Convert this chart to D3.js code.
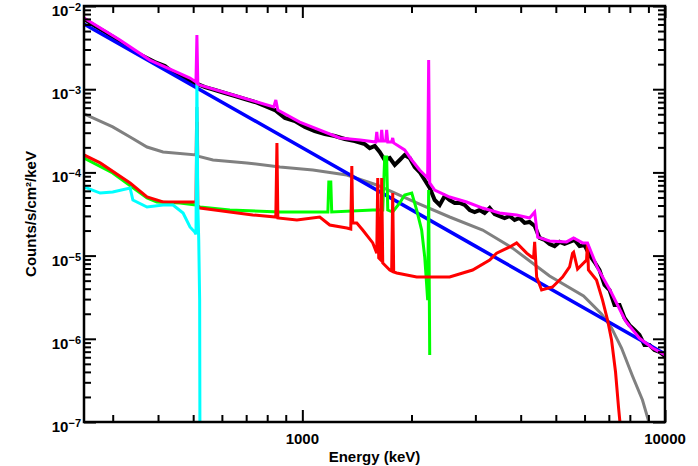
<!DOCTYPE html>
<html>
<head>
<meta charset="utf-8">
<script src="https://cdn.jsdelivr.net/npm/d3@7"></script>
<style>
  html, body { margin: 0; padding: 0; background: #fff; }
  svg text { font-family: "Liberation Sans", Arial, sans-serif; font-weight: bold; fill: #000; }
</style>
</head>
<body>
<svg id="chart" width="698" height="466"></svg>
<script>
// Energy axis (keV) and flux axis (counts/s/cm^2/keV)
const energyDomain = [250, 10000];
const fluxDomain = [1e-7, 1e-2];
const xMajorTicks = [1000, 10000];
const xTickLabels = ["1000", "10000"];
const xMinorTicks = [300, 400, 500, 600, 700, 800, 900, 2000, 3000, 4000, 5000, 6000, 7000, 8000, 9000];
const yExponents = [-7, -6, -5, -4, -3, -2];
const xTitle = "Energy (keV)";
const yTitle = "Counts/s/cm\u00b2/keV";

// Measured spectrum [keV, counts/s/cm^2/keV]
const spectrum = [
  [250,6.98e-3],[268,5.75e-3],[286,4.87e-3],[304,4.12e-3],[324,3.40e-3],[346,2.80e-3],[368,2.44e-3],
  [392,2.12e-3],[418,1.90e-3],[445,1.52e-3],[474,1.36e-3],[505,1.19e-3],[539,1.06e-3],[574,9.78e-4],
  [611,9.00e-4],[652,8.29e-4],[694,7.62e-4],[740,7.02e-4],[788,6.28e-4],[840,5.62e-4],[895,4.51e-4],
  [954,4.15e-4],[1016,3.51e-4],[1082,3.14e-4],[1153,2.89e-4],[1229,2.74e-4],[1309,2.52e-4],[1395,2.38e-4],
  [1486,2.19e-4],[1534,1.96e-4],[1584,2.08e-4],[1634,1.76e-4],[1687,1.41e-4],[1742,1.49e-4],[1798,1.23e-4],
  [1856,1.41e-4],[1915,1.62e-4],[1977,1.49e-4],[2041,1.16e-4],[2106,1.01e-4],[2175,8.11e-5],[2245,6.49e-5],
  [2317,4.66e-5],[2392,4.06e-5],[2469,5.20e-5],[2548,4.66e-5],[2630,4.29e-5],[2715,4.29e-5],[2803,4.06e-5],
  [2893,3.53e-5],[2986,3.34e-5],[3082,3.53e-5],[3181,3.25e-5],[3285,3.73e-5],[3390,3.16e-5],[3499,2.99e-5],
  [3612,2.83e-5],[3730,2.99e-5],[3849,2.68e-5],[3973,2.83e-5],[4101,2.47e-5],[4233,2.54e-5],[4371,2.27e-5],
  [4511,1.63e-5],[4656,1.54e-5],[4806,1.38e-5],[4961,1.30e-5],[5120,1.46e-5],[5285,1.38e-5],[5456,1.46e-5],
  [5631,1.54e-5],[5813,1.30e-5],[6000,1.34e-5],[6192,1.02e-5],[6392,8.38e-6],[6598,6.71e-6],[6812,4.43e-6],
  [7031,3.86e-6],[7258,2.55e-6],[7492,2.55e-6],[7733,1.78e-6],[7982,1.46e-6],[8240,1.28e-6],[8502,1.11e-6],
  [8778,8.42e-7],[9061,8.42e-7],[9353,7.33e-7],[9655,6.94e-7],[10000,6.21e-7]
];

// Summed model
const modelTotal = [
  [250,7.17e-3],[314,3.90e-3],[380,2.24e-3],[490,1.36e-3],[509,1.22e-3],[512,4.48e-3],[515,1.155e-3],
  [522,1.12e-3],[673,8.06e-4],[834,6.11e-4],[845,7.42e-4],[856,5.62e-4],[984,4.03e-4],[1268,2.59e-4],
  [1444,2.45e-4],[1594,2.32e-4],[1604,3.06e-4],[1614,2.38e-4],[1645,2.38e-4],[1655,3.24e-4],[1666,2.38e-4],
  [1698,2.38e-4],[1708,3.24e-4],[1720,2.32e-4],[1763,2.32e-4],[1775,2.59e-4],[1786,2.26e-4],[1915,1.86e-4],
  [2003,1.41e-4],[2106,1.07e-4],[2216,8.57e-5],[2230,2.24e-3],[2245,7.46e-5],[2317,6.14e-5],[2548,5.06e-5],
  [2838,4.41e-5],[3142,3.73e-5],[3499,3.25e-5],[3898,3.08e-5],[4233,2.83e-5],[4371,3.34e-5],[4456,1.67e-5],
  [4806,1.50e-5],[5352,1.46e-5],[5597,1.63e-5],[5925,1.42e-5],[6114,1.42e-5],[6516,7.10e-6],[7122,3.55e-6],
  [7782,1.64e-6],[8502,1.02e-6],[9234,7.75e-7],[10000,6.38e-7]
];

// Power-law continuum
const modelPowerLaw = [[250,6.08e-3],[1000,1.98e-4],[3000,1.30e-5],[10000,6.56e-7]];

// Broad background component
const modelBroad = [
  [250,5.04e-4],[300,3.52e-4],[335,2.66e-4],[373,2.02e-4],[413,1.76e-4],[509,1.62e-4],[512,6.11e-4],
  [515,1.57e-4],[567,1.41e-4],[703,1.30e-4],[867,1.16e-4],[1069,1.07e-4],[1326,9.31e-5],[1604,7.06e-5],
  [2067,4.29e-5],[2548,2.91e-5],[3142,2.03e-5],[3800,1.23e-5],[4806,5.69e-6],[5962,3.27e-6],[6683,1.99e-6],
  [7122,1.35e-6],[7588,7.75e-7],[8135,3.57e-7],[8667,1.84e-7],[9061,9.46e-8],[9353,6.08e-8]
];

// Line-rich activation component
const modelRed = [
  [250,1.62e-4],[277,1.30e-4],[335,7.46e-5],[373,5.06e-5],[413,4.41e-5],[499,4.41e-5],[509,4.41e-5],
  [512,4.03e-4],[515,3.84e-5],[522,3.73e-5],[631,3.34e-5],[730,3.08e-5],[845,2.91e-5],[851,2.26e-4],
  [856,2.83e-5],[966,2.68e-5],[1117,2.91e-5],[1190,2.33e-5],[1326,2.15e-5],[1360,2.09e-5],[1369,1.19e-4],
  [1377,2.47e-5],[1413,2.47e-5],[1467,2.03e-5],[1564,1.42e-5],[1604,1.07e-5],[1614,8.57e-5],[1624,9.36e-6],
  [1645,8.85e-6],[1655,8.57e-5],[1666,8.15e-6],[1742,6.71e-6],[1763,6.53e-6],[1775,5.65e-5],[1786,6.35e-6],
  [1821,6.18e-6],[2067,5.53e-6],[2548,5.53e-6],[2948,6.71e-6],[3285,8.85e-6],[3433,1.07e-5],[3730,1.27e-5],
  [3898,1.42e-5],[4155,1.07e-5],[4288,9.62e-6],[4341,9.36e-6],[4371,1.46e-5],[4427,5.53e-6],[4568,3.86e-6],
  [4897,4.20e-6],[5218,5.53e-6],[5456,7.30e-6],[5561,1.07e-5],[5597,1.10e-5],[5740,6.90e-6],[6076,8.85e-6],
  [6114,1.42e-5],[6150,6.71e-6],[6474,5.09e-6],[6726,2.92e-6],[6944,1.68e-6],[7122,9.68e-7],[7305,3.99e-7],
  [7444,1.51e-7],[7539,8.47e-8],[7588,6.08e-8]
];

// Second line component
const modelGreen = [
  [250,1.49e-4],[300,9.84e-5],[373,4.92e-5],[397,4.41e-5],[460,4.29e-5],[509,4.06e-5],[522,3.84e-5],
  [631,3.53e-5],[867,3.34e-5],[1176,3.34e-5],[1183,7.67e-5],[1198,7.67e-5],[1205,3.34e-5],[1564,3.53e-5],
  [1666,3.53e-5],[1687,1.53e-4],[1708,1.53e-4],[1720,3.53e-5],[1775,3.34e-5],[1856,4.29e-5],[1915,5.35e-5],
  [2003,5.65e-5],[2067,3.53e-5],[2133,2.03e-5],[2175,9.62e-6],[2202,4.44e-6],[2216,2.92e-6],[2230,6.14e-5],
  [2245,6.38e-7]
];

// Low-energy component with 511 keV line
const modelCyan = [
  [250,6.68e-5],[277,5.65e-5],[300,5.81e-5],[335,6.49e-5],[341,4.66e-5],[373,3.84e-5],[413,4.06e-5],
  [440,4.06e-5],[469,3.25e-5],[490,2.21e-5],[505,1.92e-5],[509,1.80e-5],[512,1.40e-3],[515,4.06e-5],
  [518,1.54e-5],[521,2.92e-6],[522,5e-8]
];

const plot = { left: 84, right: 665, top: 6, bottom: 422 };
const svg = d3.select("#chart");
svg.append("rect").attr("width", 698).attr("height", 466).attr("fill", "#fff");

const x = d3.scaleLog().domain(energyDomain).range([plot.left, plot.right]);
const y = d3.scaleLog().domain(fluxDomain).range([plot.bottom, plot.top]);

svg.append("clipPath").attr("id", "plotClip")
  .append("rect")
  .attr("x", plot.left).attr("y", plot.top)
  .attr("width", plot.right - plot.left).attr("height", plot.bottom - plot.top);

const line = d3.line().x(d => x(d[0])).y(d => y(d[1]));

const g = svg.append("g").attr("clip-path", "url(#plotClip)");
g.append("path").datum(spectrum).attr("d", line)
  .attr("fill", "none").attr("stroke", "#000").attr("stroke-width", 4)
  .attr("stroke-linejoin", "miter");
g.append("path").datum(modelBroad).attr("d", line)
  .attr("fill", "none").attr("stroke", "#808080").attr("stroke-width", 3);
g.append("path").datum(modelPowerLaw).attr("d", line)
  .attr("fill", "none").attr("stroke", "#0000ff").attr("stroke-width", 3.5);
g.append("path").datum(modelGreen).attr("d", line)
  .attr("fill", "none").attr("stroke", "#00ff00").attr("stroke-width", 3);
g.append("path").datum(modelRed).attr("d", line)
  .attr("fill", "none").attr("stroke", "#ff0000").attr("stroke-width", 3);
g.append("path").datum(modelCyan).attr("d", line)
  .attr("fill", "none").attr("stroke", "#00ffff").attr("stroke-width", 3);
g.append("path").datum(modelTotal).attr("d", line)
  .attr("fill", "none").attr("stroke", "#ff00ff").attr("stroke-width", 3);

// Ticks on all four sides, pointing inward
const yMajor = yExponents.map(e => Math.pow(10, e));
const yMinor = [];
yExponents.slice(0, -1).forEach(e => { for (let m = 2; m <= 9; m++) yMinor.push(m * Math.pow(10, e)); });

function tickAxis(axis, transform) {
  const a = svg.append("g").attr("transform", transform).call(axis);
  a.select(".domain").remove();
  a.selectAll(".tick line").attr("stroke", "#000").attr("stroke-width", 2);
  a.selectAll(".tick text").remove();
  return a;
}
const majorLen = 12, minorLen = 7;
tickAxis(d3.axisBottom(x).tickValues(xMajorTicks).tickSize(-majorLen), `translate(0,${plot.bottom})`);
tickAxis(d3.axisBottom(x).tickValues(xMinorTicks).tickSize(-minorLen), `translate(0,${plot.bottom})`);
tickAxis(d3.axisTop(x).tickValues(xMajorTicks).tickSize(-majorLen), `translate(0,${plot.top})`);
tickAxis(d3.axisTop(x).tickValues(xMinorTicks).tickSize(-minorLen), `translate(0,${plot.top})`);
tickAxis(d3.axisLeft(y).tickValues(yMajor).tickSize(-majorLen), `translate(${plot.left},0)`);
tickAxis(d3.axisLeft(y).tickValues(yMinor).tickSize(-minorLen), `translate(${plot.left},0)`);
tickAxis(d3.axisRight(y).tickValues(yMajor).tickSize(-majorLen), `translate(${plot.right},0)`);
tickAxis(d3.axisRight(y).tickValues(yMinor).tickSize(-minorLen), `translate(${plot.right},0)`);

// Frame
svg.append("rect")
  .attr("x", plot.left).attr("y", plot.top)
  .attr("width", plot.right - plot.left).attr("height", plot.bottom - plot.top)
  .attr("fill", "none").attr("stroke", "#000").attr("stroke-width", 2.5);

// X tick labels
svg.selectAll(".xlabel").data(xMajorTicks).enter().append("text")
  .attr("class", "xlabel")
  .attr("x", d => x(d)).attr("y", 444)
  .attr("text-anchor", "middle").attr("font-size", 15)
  .text((d, i) => xTickLabels[i]);

// Y tick labels as powers of ten
yExponents.forEach(e => {
  const t = svg.append("text")
    .attr("x", 81).attr("y", y(Math.pow(10, e)) + 10)
    .attr("text-anchor", "end").attr("font-size", 15);
  t.append("tspan").text("10");
  t.append("tspan").attr("font-size", 11).attr("dy", -5).text("\u2212" + Math.abs(e));
});

// Axis titles
svg.append("text")
  .attr("x", (plot.left + plot.right) / 2).attr("y", 462)
  .attr("text-anchor", "middle").attr("font-size", 15)
  .text(xTitle);
svg.append("text")
  .attr("transform", `translate(36,${(plot.top + plot.bottom) / 2}) rotate(-90)`)
  .attr("text-anchor", "middle").attr("font-size", 15)
  .text(yTitle);
</script>
</body>
</html>
